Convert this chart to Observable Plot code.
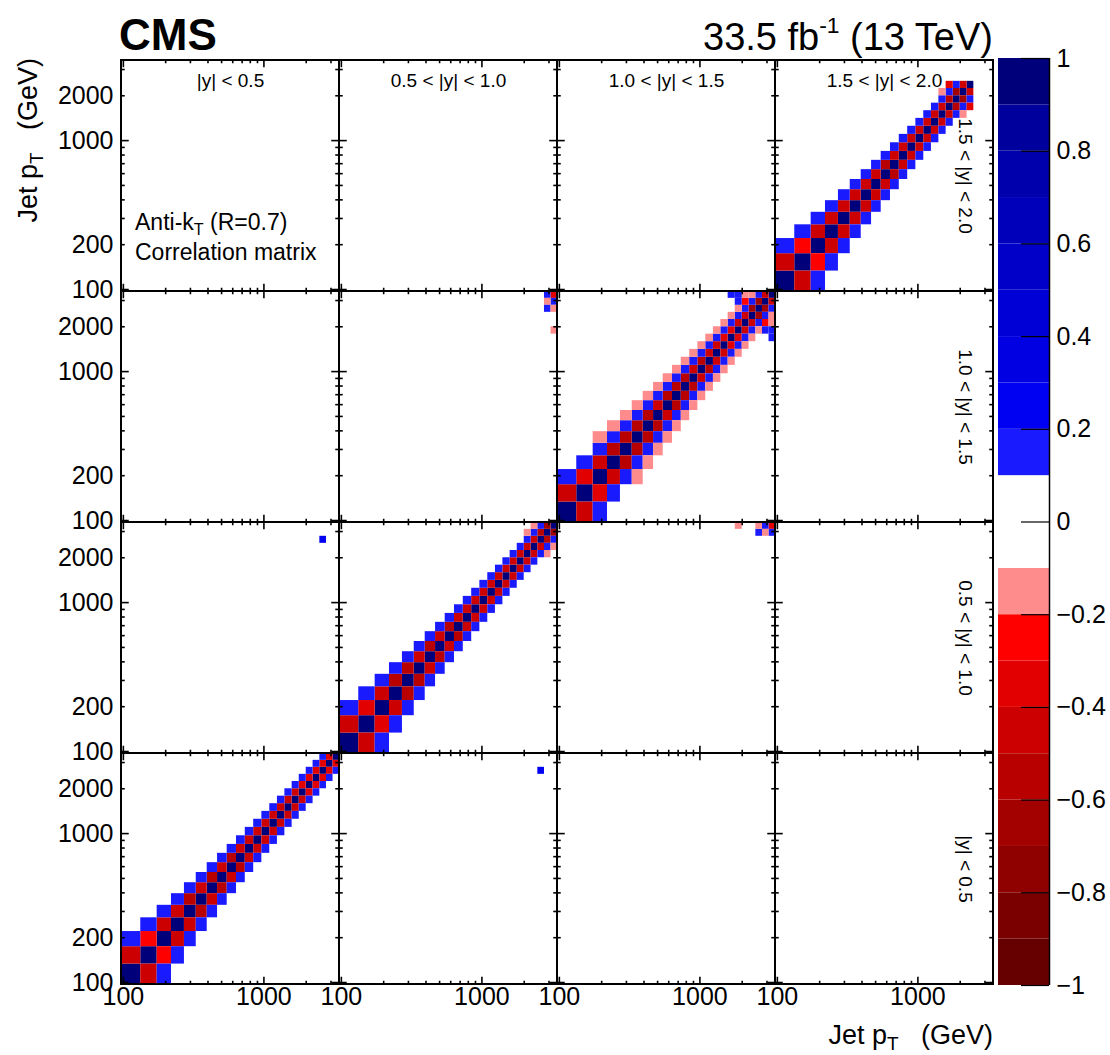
<!DOCTYPE html>
<html><head><meta charset="utf-8">
<script src="https://cdn.jsdelivr.net/npm/d3@7"></script>
<script src="https://cdn.jsdelivr.net/npm/@observablehq/plot@0.6"></script>
<style>
body{margin:0;background:#fff;font-family:"Liberation Sans",Arial,sans-serif;}
#wrap{position:relative;width:1110px;height:1055px;overflow:hidden;background:#fff;}
.lbl{position:absolute;white-space:nowrap;line-height:1;color:#000;font-family:"Liberation Sans",Arial,sans-serif;}
</style></head><body><div id="wrap"></div>
<script>
// ---------- data ----------
const rapBins = ["|y| < 0.5", "0.5 < |y| < 1.0", "1.0 < |y| < 1.5", "1.5 < |y| < 2.0"];
const ptEdges = [97,133,174,220,272,330,395,468,548,638,737,846,967,1101,1248,1410,1588,1784,2000,2238,2500,2787,3103,3450];
const nBins = [23, 23, 23, 20];
const diagValue = 1;

// band values: offset 1 (neighbouring bins) and offset 2, per rapidity block
const off1A = [-0.45,-0.25,-0.45,-0.45,-0.55,-0.45,-0.55,-0.45,-0.55,-0.45,-0.45,-0.45,-0.45,-0.45,-0.45,-0.45,-0.45,-0.35,-0.35,-0.35,-0.35,-0.35];
const off2A = [0.15,0.15,0.15,0.15,0.15,0.15,0.15,0.15,0.15,0.15,0.15,0.15,0.15,0.15,0.15,0.15,0.15,0.15,0.15,0.15,0.15];
const off1B = [-0.45,-0.35,-0.45,-0.55,-0.55,-0.45,-0.55,-0.45,-0.55,-0.45,-0.45,-0.45,-0.45,-0.45,-0.45,-0.45,-0.45,-0.45,-0.45,-0.45,-0.55,-0.65];
const off2B = [0.15,0.15,0.15,0.15,0.15,0.15,0.15,0.15,0.15,0.15,0.15,0.15,0.15,0.15,0.15,0.15,0.15,0.15,0.15,0.15,0.15];
const off1C = [-0.45,-0.35,-0.45,-0.55,-0.55,-0.55,-0.55,-0.45,-0.55,-0.55,-0.55,-0.45,-0.55,-0.45,-0.45,-0.35,-0.35,-0.45,-0.45,-0.65,-0.65,-0.45];
const off2C = [0.15,0.15,0.15,0.15,0.15,0.15,0.15,0.15,0.15,0.15,0.15,0.15,0.15,0.15,0.15,0.15,0.15,0.15,0.15,0.15,0.15];
const off1D = [-0.45,-0.25,-0.45,-0.45,-0.45,-0.45,-0.45,-0.45,-0.55,-0.45,-0.45,-0.45,-0.45,-0.45,-0.45,-0.45,-0.55,-0.65,-0.45];
const off2D = [0.15,0.15,0.15,0.15,0.15,0.15,0.15,0.15,0.15,0.15,0.15,0.15,0.15,0.15,0.15,0.15,0.15,0.15];
// sparse further-off-diagonal entries inside a block: [block, bin i, bin j, value]
const innerCells = [
  [1,18,21,-0.15],[1,19,22,-0.15],
  [2,2,5,-0.15],[2,3,6,-0.15],[2,4,7,-0.15],[2,5,8,-0.15],[2,6,9,-0.15],[2,7,10,-0.15],[2,8,11,-0.15],
  [2,9,12,-0.15],[2,10,13,-0.15],[2,11,14,-0.15],[2,12,15,-0.15],[2,13,16,-0.15],[2,14,17,-0.15],
  [2,15,18,-0.15],[2,16,19,-0.15],[2,17,20,-0.15],[2,18,21,-0.25],[2,19,22,-0.15],
  [2,18,22,-0.15],[2,17,21,0.15],[2,16,22,0.15],[2,17,22,0.15],
  [3,15,18,-0.15],[3,16,19,-0.35]
];
// cells between different rapidity blocks: [row block, col block, row bin, col bin, value]
const crossCells = [
  [1,0,20,20,0.25],[0,1,20,20,0.25],
  [1,2,22,22,-0.35],[1,2,21,22,0.15],[1,2,22,21,0.15],[1,2,21,21,-0.15],[1,2,21,20,0.15],[1,2,22,20,-0.15],[1,2,22,17,-0.15],
  [2,1,22,22,-0.35],[2,1,22,21,0.15],[2,1,21,22,0.15],[2,1,21,21,-0.15],[2,1,20,21,0.15],[2,1,20,22,-0.15],[2,1,17,22,-0.15]
];

// colour palette (ROOT-like, steps of 0.1 from -1 to 1)
const thresholds = [-0.9,-0.8,-0.7,-0.6,-0.5,-0.4,-0.3,-0.2,-0.1,0,0.1,0.2,0.3,0.4,0.5,0.6,0.7,0.8,0.9];
const palette = ["#660000","#7a0000","#8f0000","#a30000","#b80000","#cc0000","#e30000","#ff0000","#ff8c8c","#ffffff",
                 "#ffffff","#1a1aff","#0000f2","#0000e3","#0000d6","#0000c9","#0000bb","#0000ad","#00009c","#00007a"];
const cbEdges = [-1,-0.9,-0.8,-0.7,-0.6,-0.5,-0.4,-0.3,-0.2,-0.1,0,0.1,0.2,0.3,0.4,0.5,0.6,0.7,0.8,0.9,1];
const cbTicks = [-1,-0.8,-0.6,-0.4,-0.2,0,0.2,0.4,0.6,0.8,1];
const cbTickLabels = ["\u22121","\u22120.8","\u22120.6","\u22120.4","\u22120.2","0","0.2","0.4","0.6","0.8","1"];

const xTickLabels = [100, 1000];
const yTickLabels = [100, 200, 1000, 2000];
const majorTicks = [100, 1000];
const minorTicks = [200,300,400,500,600,700,800,900,2000,3000];

// ---------- build cells ----------
const bands = [[off1A, off2A],[off1B, off2B],[off1C, off2C],[off1D, off2D]];
const cells = [];
function add(r, c, i, j, v) {
  if (Math.abs(v) < 0.1) return;
  cells.push({row: rapBins[r], col: rapBins[c], x1: ptEdges[j], x2: ptEdges[j+1], y1: ptEdges[i], y2: ptEdges[i+1], v});
}
bands.forEach((b, k) => {
  for (let i = 0; i < nBins[k]; i++) add(k, k, i, i, diagValue);
  b.forEach((arr, d0) => {
    const d = d0 + 1;
    arr.forEach((v, i) => { add(k, k, i, i + d, v); add(k, k, i + d, i, v); });
  });
});
innerCells.forEach(([k, i, j, v]) => { add(k, k, i, j, v); add(k, k, j, i, v); });
crossCells.forEach(([r, c, i, j, v]) => add(r, c, i, j, v));
const panels = d3.cross(rapBins, rapBins).map(([a, b]) => ({col: a, row: b}));

const FONT = "Liberation Sans, Arial, Helvetica, sans-serif";
const W = 1110, H = 1055, mL = 120, mR = 117, mT = 58, mB = 70;
const cellW = (W - mL - mR) / 4, cellH = (H - mT - mB) / 4;

const colorScale = {type: "threshold", domain: thresholds, range: palette};

const main = Plot.plot({
  width: W, height: H, marginLeft: mL, marginRight: mR, marginTop: mT, marginBottom: mB,
  style: {fontFamily: FONT, color: "black", background: "white", overflow: "visible"},
  fx: {domain: rapBins, padding: 0, axis: null},
  fy: {domain: rapBins.slice().reverse(), padding: 0, axis: null},
  x: {type: "log", domain: [97, 3450]},
  y: {type: "log", domain: [97, 3450]},
  color: colorScale,
  marks: [
    Plot.rect(cells, {x1: "x1", x2: "x2", y1: "y1", y2: "y2", fx: "col", fy: "row", fill: "v"}),
    Plot.tickX(majorTicks, {x: d => d, insetTop: cellH - 8, stroke: "black", strokeWidth: 1.6}),
    Plot.tickX(majorTicks, {x: d => d, insetBottom: cellH - 8, stroke: "black", strokeWidth: 1.6}),
    Plot.tickX(minorTicks, {x: d => d, insetTop: cellH - 4, stroke: "black", strokeWidth: 1.6}),
    Plot.tickX(minorTicks, {x: d => d, insetBottom: cellH - 4, stroke: "black", strokeWidth: 1.6}),
    Plot.tickY(majorTicks, {y: d => d, insetRight: cellW - 8, stroke: "black", strokeWidth: 1.6}),
    Plot.tickY(majorTicks, {y: d => d, insetLeft: cellW - 8, stroke: "black", strokeWidth: 1.6}),
    Plot.tickY(minorTicks, {y: d => d, insetRight: cellW - 4, stroke: "black", strokeWidth: 1.6}),
    Plot.tickY(minorTicks, {y: d => d, insetLeft: cellW - 4, stroke: "black", strokeWidth: 1.6}),
    Plot.rect(panels, {fx: "col", fy: "row", fill: "none", stroke: "black", strokeWidth: 2}),
    Plot.axisX({anchor: "bottom", facetAnchor: "bottom", ticks: xTickLabels, tickSize: 0, tickPadding: 3,
      fontSize: 25, tickFormat: d => String(d), label: null, fontFamily: FONT}),
    Plot.axisY({anchor: "left", facetAnchor: "left", ticks: yTickLabels, tickSize: 0, tickPadding: 8,
      fontSize: 25, tickFormat: d => String(d), label: null, fontFamily: FONT}),
    Plot.text(rapBins, {fx: d => d, fy: () => rapBins[3], text: d => d, frameAnchor: "top", dy: 13,
      fontSize: 19, fontFamily: FONT, fill: "black"}),
    Plot.text(rapBins, {fy: d => d, fx: () => rapBins[3], text: d => d, frameAnchor: "right", dx: -28,
      textAnchor: "middle", rotate: 90, fontSize: 19, fontFamily: FONT, fill: "black"})
  ]
});

const cbBands = cbEdges.slice(0, -1).map((e, i) => ({lo: e, hi: cbEdges[i + 1]}));
const colorbar = Plot.plot({
  width: 114, height: H, marginLeft: 2, marginRight: 61, marginTop: mT, marginBottom: mB,
  style: {fontFamily: FONT, color: "black", background: "transparent", overflow: "visible"},
  x: {domain: [0, 1], axis: null},
  y: {domain: [-1, 1], axis: null},
  color: colorScale,
  marks: [
    Plot.rect(cbBands, {x1: 0, x2: 1, y1: "lo", y2: "hi", fill: d => (d.lo + d.hi) / 2}),
    Plot.ruleX([1], {stroke: "black", strokeWidth: 1.5}),
    Plot.tickY(cbTicks, {y: d => d, insetLeft: 23, stroke: "black", strokeWidth: 1.2}),
    Plot.text(cbTicks, {y: d => d, frameAnchor: "right", dx: 7, textAnchor: "start",
      text: (d, i) => cbTickLabels[i], fontSize: 25, fontFamily: FONT, fill: "black"})
  ]
});

const wrap = document.getElementById("wrap");
main.style.position = "absolute"; main.style.left = "0px"; main.style.top = "0px";
colorbar.style.position = "absolute"; colorbar.style.left = "996px"; colorbar.style.top = "0px";
wrap.appendChild(main);
wrap.appendChild(colorbar);

function addLabel(html, css) {
  const d = document.createElement("div");
  d.className = "lbl";
  d.innerHTML = html;
  Object.assign(d.style, css);
  wrap.appendChild(d);
  return d;
}
const sub = t => `<span style="font-size:0.7em;position:relative;top:0.3em">${t}</span>`;
addLabel("CMS", {left: "119px", top: "13px", fontSize: "44px", fontWeight: "bold"});
addLabel(`33.5 fb<span style="font-size:0.6em;position:relative;top:-0.75em">-1</span> (13 TeV)`,
  {right: "117px", top: "18px", fontSize: "38px"});
addLabel(`Anti-k${sub("T")} (R=0.7)`, {left: "135px", top: "211px", fontSize: "23px"});
addLabel("Correlation matrix", {left: "135px", top: "241px", fontSize: "23px"});
addLabel(`Jet p${sub("T")}&nbsp;&nbsp;&nbsp;(GeV)`, {right: "117px", top: "1022px", fontSize: "27px"});
addLabel(`Jet p${sub("T")}&nbsp;&nbsp;&nbsp;(GeV)`, {left: "15px", top: "258px", width: "200px", textAlign: "right",
  fontSize: "27px", transformOrigin: "0 0", transform: "rotate(-90deg)"});
</script>
</body></html>
